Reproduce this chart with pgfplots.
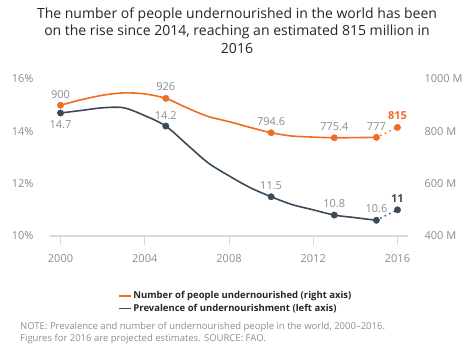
\documentclass[border=0pt]{standalone}
\usepackage{fontspec}
\setmainfont{Open Sans}
\usepackage{pgfplots}
\pgfplotsset{compat=1.18}
\definecolor{orng}{HTML}{F26B21}
\definecolor{slate}{HTML}{3B4A58}
\definecolor{txtgray}{HTML}{8C8C8C}
\definecolor{axgray}{HTML}{DADADA}
\definecolor{titlecol}{HTML}{262626}
\begin{document}
\begin{tikzpicture}[x=1pt,y=1pt]
\path[use as bounding box] (0,0) rectangle (474,-355);
\pgfplotsset{common/.style={
  scale only axis, width=358pt, height=157pt,
  at={(50pt,-236pt)}, anchor=south west,
  xmin=1999.5, xmax=2016.5, clip=false,
  /pgf/number format/assume math mode=true,
  tick label style={font=\fontsize{11}{13}\selectfont, text=txtgray},
}}
\begin{axis}[common,
  ymin=10, ymax=16,
  axis x line*=bottom, axis y line*=left,
  y axis line style={draw=none},
  x axis line style={draw=axgray, line width=1.2pt, -},
  xtick={2000,2004,2008,2012,2016},
  xticklabels={2000,2004,2008,2012,2016},
  xtick align=outside,
  xtick style={draw=axgray, line width=1pt},
  major tick length=9pt,
  xticklabel style={yshift=-6pt},
  ytick={10,12,14,16},
  yticklabels={10\%,12\%,14\%,16\%},
  ytick style={draw=none},
  yticklabel style={xshift=-13pt},
  legend style={draw=none, fill=none, anchor=north west,
    at={(axis description cs:0.18,-0.325)},
    font=\fontsize{9.5}{11.5}\bfseries\selectfont, text=titlecol,
    row sep=0.2pt, cells={anchor=west}},
  legend image code/.code={\draw[#1] (0pt,0pt) -- (12pt,0pt);},
]
\addplot[slate, line width=1.6pt, smooth, tension=0.5, forget plot] coordinates {
(2000,14.7)(2001,14.8)(2002,14.9)(2003,14.9)(2004,14.6)(2005,14.2)(2006,13.5)
(2007,12.8)(2008,12.3)(2009,11.85)(2010,11.5)(2011,11.2)(2012,11.0)(2013,10.8)
(2014,10.7)(2015,10.6)};
\addplot[slate, line width=2pt, line cap=round, dash pattern=on 0pt off 5pt, forget plot] coordinates {(2015,10.6)(2016,11)};
\addplot[slate, only marks, mark=*, mark size=3.2pt, forget plot] coordinates {
(2000,14.7)(2005,14.2)(2010,11.5)(2013,10.8)(2015,10.6)(2016,11)};
\begin{scope}[every node/.style={font=\fontsize{11}{13}\selectfont, text=txtgray}]
\node at (axis cs:2000,14.7) [yshift=-12pt] {14.7};
\node at (axis cs:2005,14.2) [yshift=11pt] {14.2};
\node at (axis cs:2010,11.5) [yshift=11pt] {11.5};
\node at (axis cs:2013,10.8) [yshift=11pt] {10.8};
\node at (axis cs:2015,10.6) [yshift=11.5pt] {10.6};
\end{scope}
\node[font=\fontsize{11}{13}\bfseries\selectfont, text=slate] at (axis cs:2016,11) [yshift=11.5pt] {11};
\addlegendimage{orng, line width=1.8pt}
\addlegendentry{Number of people undernourished (right axis)}
\addlegendimage{slate, line width=1.8pt}
\addlegendentry{Prevalence of undernourishment (left axis)}
\end{axis}
\begin{axis}[common,
  ymin=400, ymax=1000,
  axis x line=none, axis y line*=right,
  y axis line style={draw=none},
  ytick={400,600,800,1000},
  yticklabels={400 M,600 M,800 M,1000 M},
  ytick style={draw=none},
  yticklabel style={xshift=13pt},
]
\addplot[orng, line width=1.6pt, smooth, tension=0.5] coordinates {
(2000,900)(2001,921)(2002,938)(2003,947)(2004,943)(2005,926)(2006,890)
(2007,857)(2008,837)(2009,815)(2010,794.6)(2011,782)(2012,778)(2013,775.4)
(2014,776)(2015,777)};
\addplot[orng, line width=2pt, line cap=round, dash pattern=on 0pt off 5pt] coordinates {(2015,777)(2016,815)};
\addplot[orng, only marks, mark=*, mark size=3.2pt] coordinates {
(2000,900)(2005,926)(2010,794.6)(2013,775.4)(2015,777)(2016,815)};
\begin{scope}[every node/.style={font=\fontsize{11}{13}\selectfont, text=txtgray}]
\node at (axis cs:2000,900) [yshift=11pt] {900};
\node at (axis cs:2005,926) [yshift=11.5pt] {926};
\node at (axis cs:2010,794.6) [yshift=11.3pt] {794.6};
\node at (axis cs:2013,775.4) [yshift=11pt] {775.4};
\node at (axis cs:2015,777) [yshift=11pt] {777};
\end{scope}
\node[font=\fontsize{11}{13}\bfseries\selectfont, text=orng] at (axis cs:2016,815) [yshift=11.7pt] {815};
\end{axis}
\node[align=center, font=\fontsize{14}{17.5}\selectfont, text=titlecol, anchor=north] at (237,-4)
  {The number of people undernourished in the world has been\\
   on the rise since 2014, reaching an estimated 815 million in\\
   2016};
\node[align=left, anchor=north west, font=\fontsize{9.5}{12.5}\selectfont, text=txtgray, inner sep=0pt] at (20,-322)
  {NOTE: Prevalence and number of undernourished people in the world, 2000–2016.\\
   Figures for 2016 are projected estimates. SOURCE: FAO.};
\end{tikzpicture}
\end{document}
